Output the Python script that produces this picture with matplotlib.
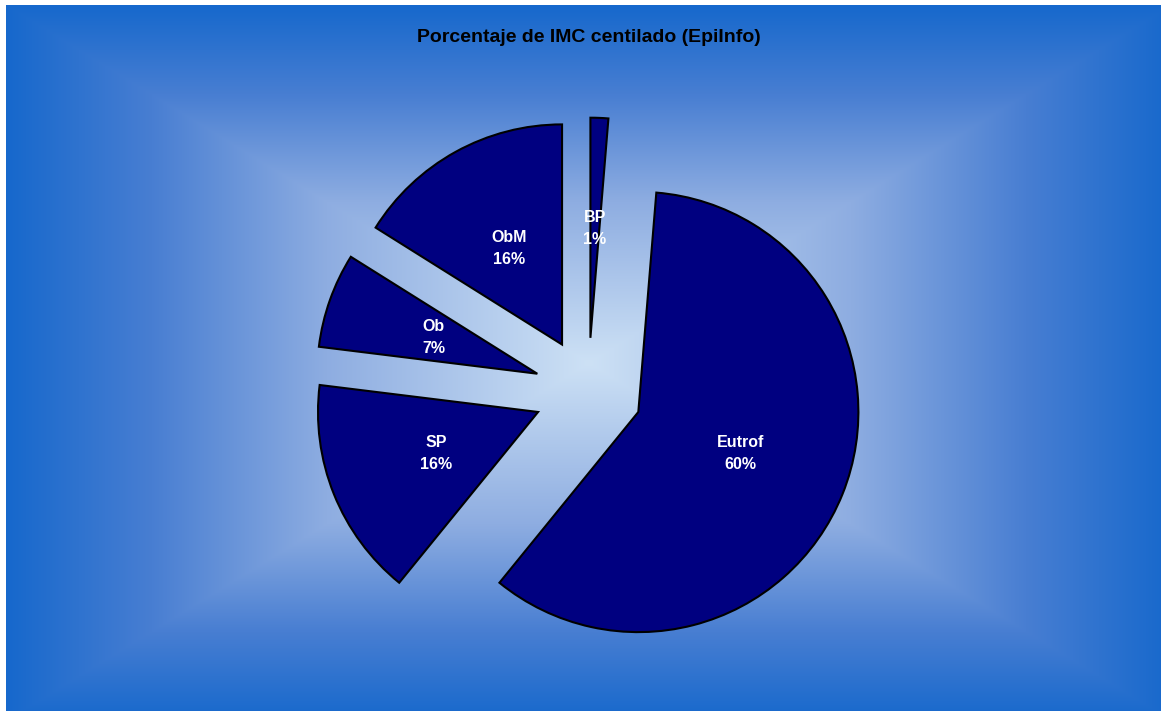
import numpy as np
import matplotlib
matplotlib.use("Agg")
import matplotlib.pyplot as plt
from matplotlib.patches import Rectangle

plt.rcParams['font.family'] = ['Liberation Sans', 'DejaVu Sans']

# Distribución de IMC centilado (EpiInfo)
categorias = ['BP', 'Eutrof', 'SP', 'Ob', 'ObM']
casos = [3, 137, 37, 16, 37]

W, H = 1161, 711
centro_pie = (588, H - 392)
radio = 220
separacion = 54

total = sum(casos)
etiquetas = ["%s\n%.0f%%" % (c, 100.0 * n / total) for c, n in zip(categorias, casos)]

fig = plt.figure(figsize=((W + 0.4) / 100, (H + 0.4) / 100), dpi=100, facecolor='white')
ax = fig.add_axes([0, 0, 1, 1])

# fondo con degradado rectangular desde el centro
x0, x1, y0, y1 = 6, W, 0, H - 6
gx = np.arange(x0, x1) + 0.5
gy = np.arange(y0, y1) + 0.5
cx, cy = (x0 + x1) / 2, (y0 + y1) / 2
XX, YY = np.meshgrid(gx, gy)
t = np.maximum(np.abs(XX - cx) / ((x1 - x0) / 2), np.abs(YY - cy) / ((y1 - y0) / 2))
t = np.clip(t, 0, 1)
paradas = [0.0, 0.45, 0.75, 1.0]
colores = np.array([[205, 225, 245],
                    [142, 173, 225],
                    [72, 126, 210],
                    [22, 104, 204]]) / 255
img = np.stack([np.interp(t, paradas, colores[:, k]) for k in range(3)], axis=-1)
ax.add_patch(Rectangle((x0, y0 - 20), x1 - x0 + 20, y1 - y0 + 20,
                       facecolor=colores[-1], edgecolor='none', zorder=-1))
ax.imshow(img, extent=(x0, x1 + 10, y0 - 10, y1), origin='lower', zorder=0,
          interpolation='bilinear')

wedges, texts = ax.pie(casos, labels=etiquetas, startangle=90, counterclock=False,
                       explode=[separacion] * len(casos), radius=radio, center=centro_pie,
                       labeldistance=0.5,
                       wedgeprops=dict(facecolor='#000080', edgecolor='black', linewidth=1.5),
                       textprops=dict(color='white', fontweight='bold', fontsize=11.5))
for w in wedges:
    w.set_zorder(2)
for txt in texts:
    txt.set_ha('center')
    txt.set_va('center')
    txt.set_multialignment('center')
    txt.set_linespacing(1.6)
    txt.set_zorder(3)

ax.set_xlim(0, W)
ax.set_ylim(0, H)
ax.set_aspect('auto')
ax.axis('off')

fig.text(588.5 / W, 1 - 37 / H, 'Porcentaje de IMC centilado (EpiInfo)',
         ha='center', va='center', fontsize=14, fontweight='bold', color='black')

fig.savefig('out.png', dpi=100, facecolor='white')
